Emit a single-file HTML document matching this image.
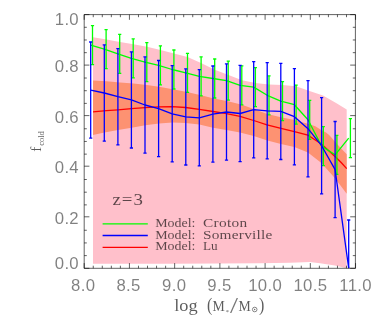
<!DOCTYPE html><html><head><meta charset="utf-8"><style>html,body{margin:0;padding:0;background:#fff}body{width:374px;height:320px;position:relative;overflow:hidden;font-family:"Liberation Serif",serif}</style></head><body><svg width="374" height="320" viewBox="0 0 374 320" style="position:absolute;left:0;top:0">
<defs><clipPath id="c"><rect x="84.2" y="14.6" width="271.2" height="253.7"/></clipPath></defs>
<g clip-path="url(#c)">
<polygon points="93.0,37.2 106.5,39.5 120.0,42.0 133.5,44.3 147.0,46.8 160.5,50.0 174.0,53.6 187.5,57.0 201.0,63.0 214.8,69.8 228.5,75.1 242.0,80.3 255.5,83.0 269.0,84.4 282.5,85.0 296.0,86.2 309.5,91.0 323.0,95.5 336.5,103.2 346.7,109.6 346.7,268.3 335.0,265.4 320.0,263.2 310.0,262.0 290.0,262.7 260.0,263.2 220.0,263.4 170.0,263.7 93.0,263.8" fill="#ffc0cb"/>
<polygon points="93.0,80.4 106.5,81.3 120.0,82.4 133.5,83.6 147.0,85.1 160.5,87.0 174.0,89.6 187.0,92.0 200.0,94.9 215.0,98.8 228.0,101.2 242.0,104.8 255.0,109.6 267.4,114.1 280.9,117.2 294.4,120.0 307.9,123.8 315.3,126.2 321.2,130.0 326.0,132.6 329.1,135.0 331.4,137.5 335.0,141.8 340.0,147.3 346.7,154.2 346.7,193.8 335.0,178.2 321.4,163.0 307.9,152.6 294.4,147.0 280.9,144.1 267.4,140.6 253.7,136.1 240.0,132.5 226.5,130.1 213.0,127.7 199.4,124.5 185.6,122.9 172.6,122.6 159.0,123.6 145.3,125.3 131.6,127.7 118.0,130.1 104.5,132.5 93.0,134.9" fill="#fd9272"/>
<polyline points="93.0,111.8 106.5,110.7 118.0,109.8 131.5,108.7 145.0,107.7 158.5,106.9 172.0,106.6 185.6,107.5 199.4,109.4 213.0,111.5 226.5,113.7 240.0,116.4 253.7,120.5 267.0,124.8 281.0,128.4 294.4,131.7 307.9,135.2 321.4,144.0 335.0,156.5 341.4,162.7 346.7,168.6" fill="none" stroke="#ff0000" stroke-width="1.3"/>
<polyline points="90.7,45.2 104.3,49.2 117.9,53.8 131.4,58.4 145.0,62.2 158.6,65.4 172.2,69.5 185.8,72.9 199.3,76.3 212.9,78.5 226.5,80.6 240.1,85.4 253.7,87.1 267.2,95.3 280.8,101.2 294.4,104.7 308.0,119.8 321.6,146.1 335.1,154.8 348.7,138.1" fill="none" stroke="#00ff00" stroke-width="1.3" stroke-linejoin="round"/>
<path d="M92.5,25.7V64.7M90.9,25.7h3.2M90.9,64.7h3.2M106.1,29.7V68.7M104.5,29.7h3.2M104.5,68.7h3.2M119.7,34.3V73.3M118.1,34.3h3.2M118.1,73.3h3.2M133.2,38.9V77.9M131.6,38.9h3.2M131.6,77.9h3.2M146.8,42.7V81.7M145.2,42.7h3.2M145.2,81.7h3.2M160.4,45.9V84.9M158.8,45.9h3.2M158.8,84.9h3.2M173.9,50.0V89.0M172.3,50.0h3.2M172.3,89.0h3.2M187.5,53.4V92.4M185.9,53.4h3.2M185.9,92.4h3.2M201.1,56.8V95.8M199.5,56.8h3.2M199.5,95.8h3.2M214.7,59.0V98.0M213.1,59.0h3.2M213.1,98.0h3.2M228.2,61.1V100.1M226.7,61.1h3.2M226.7,100.1h3.2M241.8,65.9V104.9M240.2,65.9h3.2M240.2,104.9h3.2M255.4,67.6V106.6M253.8,67.6h3.2M253.8,106.6h3.2M269.0,75.8V114.8M267.4,75.8h3.2M267.4,114.8h3.2M282.5,81.7V120.7M280.9,81.7h3.2M280.9,120.7h3.2M296.1,85.2V124.2M294.5,85.2h3.2M294.5,124.2h3.2M309.7,100.3V139.3M308.1,100.3h3.2M308.1,139.3h3.2M323.3,126.6V165.6M321.7,126.6h3.2M321.7,165.6h3.2M336.9,135.3V174.3M335.2,135.3h3.2M335.2,174.3h3.2M350.4,118.6V157.6M348.8,118.6h3.2M348.8,157.6h3.2" stroke="#00ff00" stroke-width="1.3" fill="none"/>
<polyline points="90.7,90.1 104.3,93.0 117.9,96.7 131.4,99.9 145.0,105.0 158.6,108.6 172.2,113.8 185.8,116.9 199.3,117.8 212.9,114.1 226.5,112.0 240.1,113.5 253.7,109.7 267.2,110.8 280.8,111.4 294.4,116.7 308.0,128.7 321.6,145.7 335.1,169.6 348.7,268.1" fill="none" stroke="#0000ff" stroke-width="1.3" stroke-linejoin="round"/>
<path d="M90.7,42.0V138.2M89.1,42.0h3.2M89.1,138.2h3.2M104.3,44.9V141.1M102.7,44.9h3.2M102.7,141.1h3.2M117.9,48.6V144.8M116.3,48.6h3.2M116.3,144.8h3.2M131.4,51.8V148.0M129.8,51.8h3.2M129.8,148.0h3.2M145.0,56.9V153.1M143.4,56.9h3.2M143.4,153.1h3.2M158.6,60.5V156.7M157.0,60.5h3.2M157.0,156.7h3.2M172.2,65.7V161.9M170.6,65.7h3.2M170.6,161.9h3.2M185.8,68.8V165.0M184.2,68.8h3.2M184.2,165.0h3.2M199.3,69.7V165.9M197.7,69.7h3.2M197.7,165.9h3.2M212.9,66.0V162.2M211.3,66.0h3.2M211.3,162.2h3.2M226.5,63.9V160.1M224.9,63.9h3.2M224.9,160.1h3.2M240.1,65.4V161.6M238.5,65.4h3.2M238.5,161.6h3.2M253.7,61.6V157.8M252.1,61.6h3.2M252.1,157.8h3.2M267.2,62.7V158.9M265.6,62.7h3.2M265.6,158.9h3.2M280.8,63.3V159.5M279.2,63.3h3.2M279.2,159.5h3.2M294.4,68.6V164.8M292.8,68.6h3.2M292.8,164.8h3.2M308.0,80.6V176.8M306.4,80.6h3.2M306.4,176.8h3.2M321.6,97.6V193.8M320.0,97.6h3.2M320.0,193.8h3.2M335.1,121.5V217.7M333.5,121.5h3.2M333.5,217.7h3.2M348.7,220.0V316.2M347.1,220.0h3.2M347.1,316.2h3.2" stroke="#0000ff" stroke-width="1.3" fill="none"/>
</g>
<line x1="102.6" x2="147.8" y1="223.95" y2="223.95" stroke="#00ff00" stroke-width="1.3"/>
<line x1="102.6" x2="147.8" y1="235.5" y2="235.5" stroke="#0000ff" stroke-width="1.3"/>
<line x1="102.6" x2="147.8" y1="247.4" y2="247.4" stroke="#ff0000" stroke-width="1.3"/>
<path d="M84.2,14.6H355.4V268.3H84.2Z" stroke="#000" stroke-width="0.62" fill="none"/>
<path d="M93.25,268.3v-2.6M93.25,14.6v2.6M102.29,268.3v-2.6M102.29,14.6v2.6M111.34,268.3v-2.6M111.34,14.6v2.6M120.38,268.3v-2.6M120.38,14.6v2.6M138.47,268.3v-2.6M138.47,14.6v2.6M147.51,268.3v-2.6M147.51,14.6v2.6M156.56,268.3v-2.6M156.56,14.6v2.6M165.61,268.3v-2.6M165.61,14.6v2.6M183.69,268.3v-2.6M183.69,14.6v2.6M192.74,268.3v-2.6M192.74,14.6v2.6M201.78,268.3v-2.6M201.78,14.6v2.6M210.83,268.3v-2.6M210.83,14.6v2.6M228.92,268.3v-2.6M228.92,14.6v2.6M237.96,268.3v-2.6M237.96,14.6v2.6M247.01,268.3v-2.6M247.01,14.6v2.6M256.06,268.3v-2.6M256.06,14.6v2.6M274.14,268.3v-2.6M274.14,14.6v2.6M283.19,268.3v-2.6M283.19,14.6v2.6M292.24,268.3v-2.6M292.24,14.6v2.6M301.28,268.3v-2.6M301.28,14.6v2.6M319.37,268.3v-2.6M319.37,14.6v2.6M328.42,268.3v-2.6M328.42,14.6v2.6M337.46,268.3v-2.6M337.46,14.6v2.6M346.50,268.3v-2.6M346.50,14.6v2.6M84.20,268.3v-5.2M84.20,14.6v5.2M129.43,268.3v-5.2M129.43,14.6v5.2M174.65,268.3v-5.2M174.65,14.6v5.2M219.88,268.3v-5.2M219.88,14.6v5.2M265.10,268.3v-5.2M265.10,14.6v5.2M310.32,268.3v-5.2M310.32,14.6v5.2M355.55,268.3v-5.2M355.55,14.6v5.2M84.2,27.29h2.6M355.4,27.29h-2.6M84.2,39.97h2.6M355.4,39.97h-2.6M84.2,52.66h2.6M355.4,52.66h-2.6M84.2,78.03h2.6M355.4,78.03h-2.6M84.2,90.71h2.6M355.4,90.71h-2.6M84.2,103.39h2.6M355.4,103.39h-2.6M84.2,128.77h2.6M355.4,128.77h-2.6M84.2,141.45h2.6M355.4,141.45h-2.6M84.2,154.13h2.6M355.4,154.13h-2.6M84.2,179.50h2.6M355.4,179.50h-2.6M84.2,192.19h2.6M355.4,192.19h-2.6M84.2,204.88h2.6M355.4,204.88h-2.6M84.2,230.25h2.6M355.4,230.25h-2.6M84.2,242.93h2.6M355.4,242.93h-2.6M84.2,255.62h2.6M355.4,255.62h-2.6M84.2,14.60h5.2M355.4,14.60h-5.2M84.2,65.10h5.2M355.4,65.10h-5.2M84.2,115.60h5.2M355.4,115.60h-5.2M84.2,166.20h5.2M355.4,166.20h-5.2M84.2,216.80h5.2M355.4,216.80h-5.2M84.2,268.30h5.2M355.4,268.30h-5.2" stroke="#000" stroke-width="0.62" fill="none"/>
</svg>
<svg width="374" height="320" viewBox="0 0 374 320" style="position:absolute;left:0;top:0;will-change:transform;filter:grayscale(1)">
<g font-family="Liberation Serif, serif" fill="#000" opacity="0.64">
<text transform="translate(83.2,291.2) scale(1.06,1)" font-size="15.8" text-anchor="middle" font-family="Liberation Sans, sans-serif" opacity="0.78" letter-spacing="0.3">8.0</text>
<text transform="translate(128.6,291.2) scale(1.06,1)" font-size="15.8" text-anchor="middle" font-family="Liberation Sans, sans-serif" opacity="0.78" letter-spacing="0.3">8.5</text>
<text transform="translate(174.2,291.2) scale(1.06,1)" font-size="15.8" text-anchor="middle" font-family="Liberation Sans, sans-serif" opacity="0.78" letter-spacing="0.3">9.0</text>
<text transform="translate(219.4,291.2) scale(1.06,1)" font-size="15.8" text-anchor="middle" font-family="Liberation Sans, sans-serif" opacity="0.78" letter-spacing="0.3">9.5</text>
<text transform="translate(265.1,291.2) scale(1.06,1)" font-size="15.8" text-anchor="middle" font-family="Liberation Sans, sans-serif" opacity="0.78" letter-spacing="0.3">10.0</text>
<text transform="translate(310.4,291.2) scale(1.06,1)" font-size="15.8" text-anchor="middle" font-family="Liberation Sans, sans-serif" opacity="0.78" letter-spacing="0.3">10.5</text>
<text transform="translate(355.6,291.2) scale(1.06,1)" font-size="15.8" text-anchor="middle" font-family="Liberation Sans, sans-serif" opacity="0.78" letter-spacing="0.3">11.0</text>
<text transform="translate(79,25.3) scale(1.06,1)" font-size="15.8" text-anchor="end" font-family="Liberation Sans, sans-serif" opacity="0.78" letter-spacing="0.3">1.0</text>
<text transform="translate(79,72) scale(1.06,1)" font-size="15.8" text-anchor="end" font-family="Liberation Sans, sans-serif" opacity="0.78" letter-spacing="0.3">0.8</text>
<text transform="translate(79,122.5) scale(1.06,1)" font-size="15.8" text-anchor="end" font-family="Liberation Sans, sans-serif" opacity="0.78" letter-spacing="0.3">0.6</text>
<text transform="translate(79,173.3) scale(1.06,1)" font-size="15.8" text-anchor="end" font-family="Liberation Sans, sans-serif" opacity="0.78" letter-spacing="0.3">0.4</text>
<text transform="translate(79,224) scale(1.06,1)" font-size="15.8" text-anchor="end" font-family="Liberation Sans, sans-serif" opacity="0.78" letter-spacing="0.3">0.2</text>
<text transform="translate(79,268.8) scale(1.06,1)" font-size="15.8" text-anchor="end" font-family="Liberation Sans, sans-serif" opacity="0.78" letter-spacing="0.3">0.0</text>
<text transform="translate(174.2,310.9) scale(1.077,1)" font-size="17" >log</text>
<text transform="translate(206.9,310.9) scale(1.0,1.17)" font-size="16" >(</text>
<text transform="translate(212.4,310.5) scale(0.92,1)" font-size="15" >M</text>
<text transform="translate(225.4,314.3) scale(1,1)" font-size="7" >*</text>
<text transform="translate(229.9,313.4) scale(1.8,1.39)" font-size="16" opacity="0.85">/</text>
<text transform="translate(238.5,310.5) scale(0.92,1)" font-size="15" >M</text>
<circle cx="254.7" cy="309.5" r="2.3" fill="none" stroke="#000" stroke-width="0.75"/><circle cx="254.7" cy="309.5" r="0.65" fill="#000"/>
<text transform="translate(258.9,310.9) scale(1.0,1.17)" font-size="16" >)</text>
<g transform="translate(41,151.8) rotate(-90)"><text x="0" y="0" font-size="15" >f</text><text transform="translate(6.0,3.2) scale(0.998,1)" font-size="8.5" >cold</text></g>
<text transform="translate(112.4,205) scale(1.180,1)" font-size="16" textLength="25.93" lengthAdjust="spacing" >z=3</text>
<text transform="translate(155.2,226.8) scale(1.073,1)" font-size="13.0" >Model:</text>
<text transform="translate(203,226.8) scale(1.180,1)" font-size="13.0" textLength="37.54" lengthAdjust="spacing" >Croton</text>
<text transform="translate(155.2,238.5) scale(1.073,1)" font-size="13.0" >Model:</text>
<text transform="translate(203,238.5) scale(1.180,1)" font-size="13.0" textLength="58.73" lengthAdjust="spacing" >Somerville</text>
<text transform="translate(155.2,250.1) scale(1.073,1)" font-size="13.0" >Model:</text>
<text transform="translate(203,250.1) scale(1.018,1)" font-size="13.0" >Lu</text>
</g>
</svg></body></html>
